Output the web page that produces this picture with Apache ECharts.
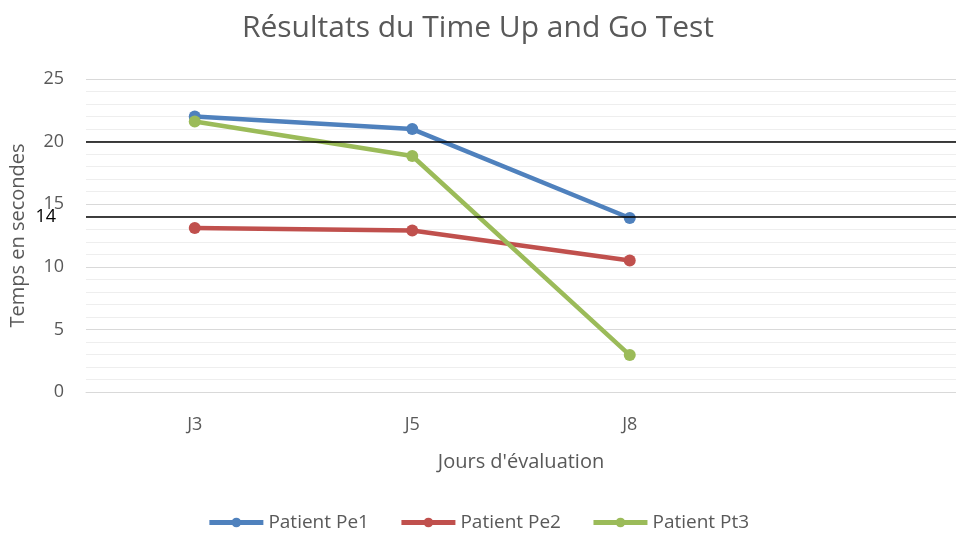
<!DOCTYPE html>
<html>
<head>
<meta charset="utf-8">
<script src="https://cdn.jsdelivr.net/npm/echarts@6/dist/echarts.min.js"></script>
<style>
html, body { margin: 0; padding: 0; background: #fff; }
#main { width: 956px; height: 537px; }
</style>
</head>
<body>
<div id="main"></div>
<script>
var myChart = echarts.init(document.getElementById('main'));

var jours = ['J3', 'J5', 'J8', ''];
var patientPe1 = [22.0, 21.0, 13.9];
var patientPe2 = [13.1, 12.9, 10.5];
var patientPt3 = [21.6, 18.85, 2.95];
var seuils = [20, 14];

var textColor = '#595959';
var fontFamily = '"Open Sans", "Noto Sans", sans-serif';

function serie(name, data, color) {
    return {
        name: name,
        type: 'line',
        data: data,
        symbol: 'circle',
        symbolSize: 12,
        itemStyle: { color: color },
        lineStyle: { color: color, width: 4.5 }
    };
}

var option = {
    animation: false,
    textStyle: { fontFamily: fontFamily },
    title: {
        text: 'Résultats du Time Up and Go Test',
        left: 'center',
        top: 8,
        textStyle: {
            color: textColor,
            fontSize: 30,
            fontWeight: 'normal',
            fontFamily: fontFamily
        }
    },
    legend: {
        bottom: 0,
        left: 'center',
        itemWidth: 54,
        itemHeight: 12,
        itemGap: 30,
        lineStyle: { width: 5 },
        textStyle: { color: textColor, fontSize: 19, fontFamily: fontFamily },
        data: ['Patient Pe1', 'Patient Pe2', 'Patient Pt3']
    },
    grid: {
        left: 85,
        right: 0,
        top: 79,
        bottom: 145
    },
    xAxis: {
        type: 'category',
        data: jours,
        boundaryGap: true,
        name: "Jours d'évaluation",
        nameLocation: 'middle',
        nameGap: 60,
        nameTextStyle: { color: textColor, fontSize: 20 },
        axisTick: { show: false },
        axisLine: { lineStyle: { color: '#d9d9d9', width: 1 } },
        axisLabel: { color: textColor, fontSize: 18, margin: 24 }
    },
    yAxis: {
        type: 'value',
        min: 0,
        max: 25,
        interval: 5,
        name: 'Temps en secondes',
        nameLocation: 'middle',
        nameGap: 58,
        nameTextStyle: { color: textColor, fontSize: 20 },
        axisLine: { show: false },
        axisTick: { show: false },
        axisLabel: { color: textColor, fontSize: 18, margin: 22 },
        splitLine: { lineStyle: { color: '#d9d9d9', width: 1 } },
        minorTick: { show: false, splitNumber: 5 },
        minorSplitLine: { show: true, lineStyle: { color: '#eeeeee', width: 1 } }
    },
    series: [
        serie('Patient Pe1', patientPe1, '#4F81BD'),
        serie('Patient Pe2', patientPe2, '#C0504D'),
        serie('Patient Pt3', patientPt3, '#9BBB59'),
        {
            type: 'line',
            data: [],
            silent: true,
            markLine: {
                symbol: 'none',
                silent: true,
                lineStyle: { color: '#000', width: 1.5, type: 'solid' },
                data: [
                    { yAxis: seuils[0], label: { show: false } },
                    {
                        yAxis: seuils[1],
                        label: {
                            show: true,
                            position: 'start',
                            formatter: String(seuils[1]),
                            color: '#000',
                            fontSize: 18,
                            distance: 30
                        }
                    }
                ]
            }
        }
    ]
};

myChart.setOption(option);
</script>
</body>
</html>
